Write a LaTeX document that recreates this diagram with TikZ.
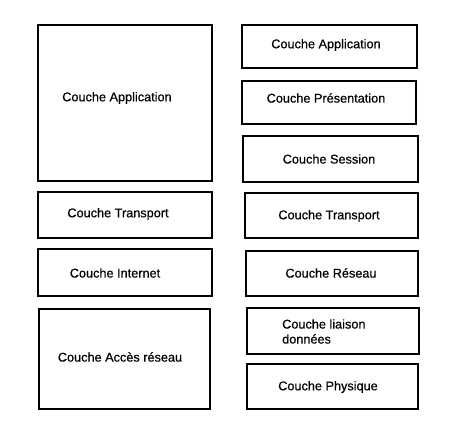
\documentclass[tikz,border=0pt]{standalone}
\usepackage{fontspec}
\setmainfont{Liberation Sans}
\newfontfamily\lblfont[FakeBold=0.5]{Liberation Sans}
\begin{document}
\begin{tikzpicture}[x=1pt,y=-1pt,
  box/.style={draw=black,line width=2pt,inner sep=0pt,outer sep=0pt,rectangle},
  lbl/.style={inner sep=0pt,yshift=-1pt,font=\lblfont\fontsize{12.7}{15}\selectfont}]
\fill[white] (0,0) rectangle (470,446);
\useasboundingbox (0,0) rectangle (470,446);
% left column
\node[box,minimum width=174pt,minimum height=156pt] (l1) at (125,103) {};
\node[box,minimum width=174pt,minimum height=46pt] (l2) at (125,215) {};
\node[box,minimum width=174pt,minimum height=47pt] (l3) at (125,272.5) {};
\node[box,minimum width=171pt,minimum height=100pt] (l4) at (124.5,359) {};
% right column
\node[box,minimum width=175pt,minimum height=43pt] (r1) at (329.5,46.5) {};
\node[box,minimum width=174pt,minimum height=43pt] (r2) at (329,102.5) {};
\node[box,minimum width=175pt,minimum height=46pt] (r3) at (330.5,159) {};
\node[box,minimum width=173pt,minimum height=45pt] (r4) at (331.5,215.5) {};
\node[box,minimum width=172pt,minimum height=45pt] (r5) at (332,273.5) {};
\node[box,minimum width=172pt,minimum height=46pt] (r6) at (333,331) {};
\node[box,minimum width=171pt,minimum height=45pt] (r7) at (332.5,386.5) {};
% labels
\node[lbl] (tl1) at (117,97) {Couche Application};
\node[lbl] (tl2) at (118,213) {Couche Transport};
\node[lbl] (tl3) at (115,272) {Couche Internet};
\node[lbl] (tl4) at (120,356) {Couche Accès réseau};
\node[lbl] (tr1) at (326,44) {Couche Application};
\node[lbl] (tr2) at (326,97) {Couche Présentation};
\node[lbl] (tr3) at (329,158) {Couche Session};
\node[lbl] (tr4) at (329,215) {Couche Transport};
\node[lbl] (tr5) at (331,272) {Couche Réseau};
\node[lbl,align=left,anchor=west] (tr6) at (282,330.5) {Couche liaison\\données};
\node[lbl] (tr7) at (328,386) {Couche Physique};
\end{tikzpicture}
\end{document}
